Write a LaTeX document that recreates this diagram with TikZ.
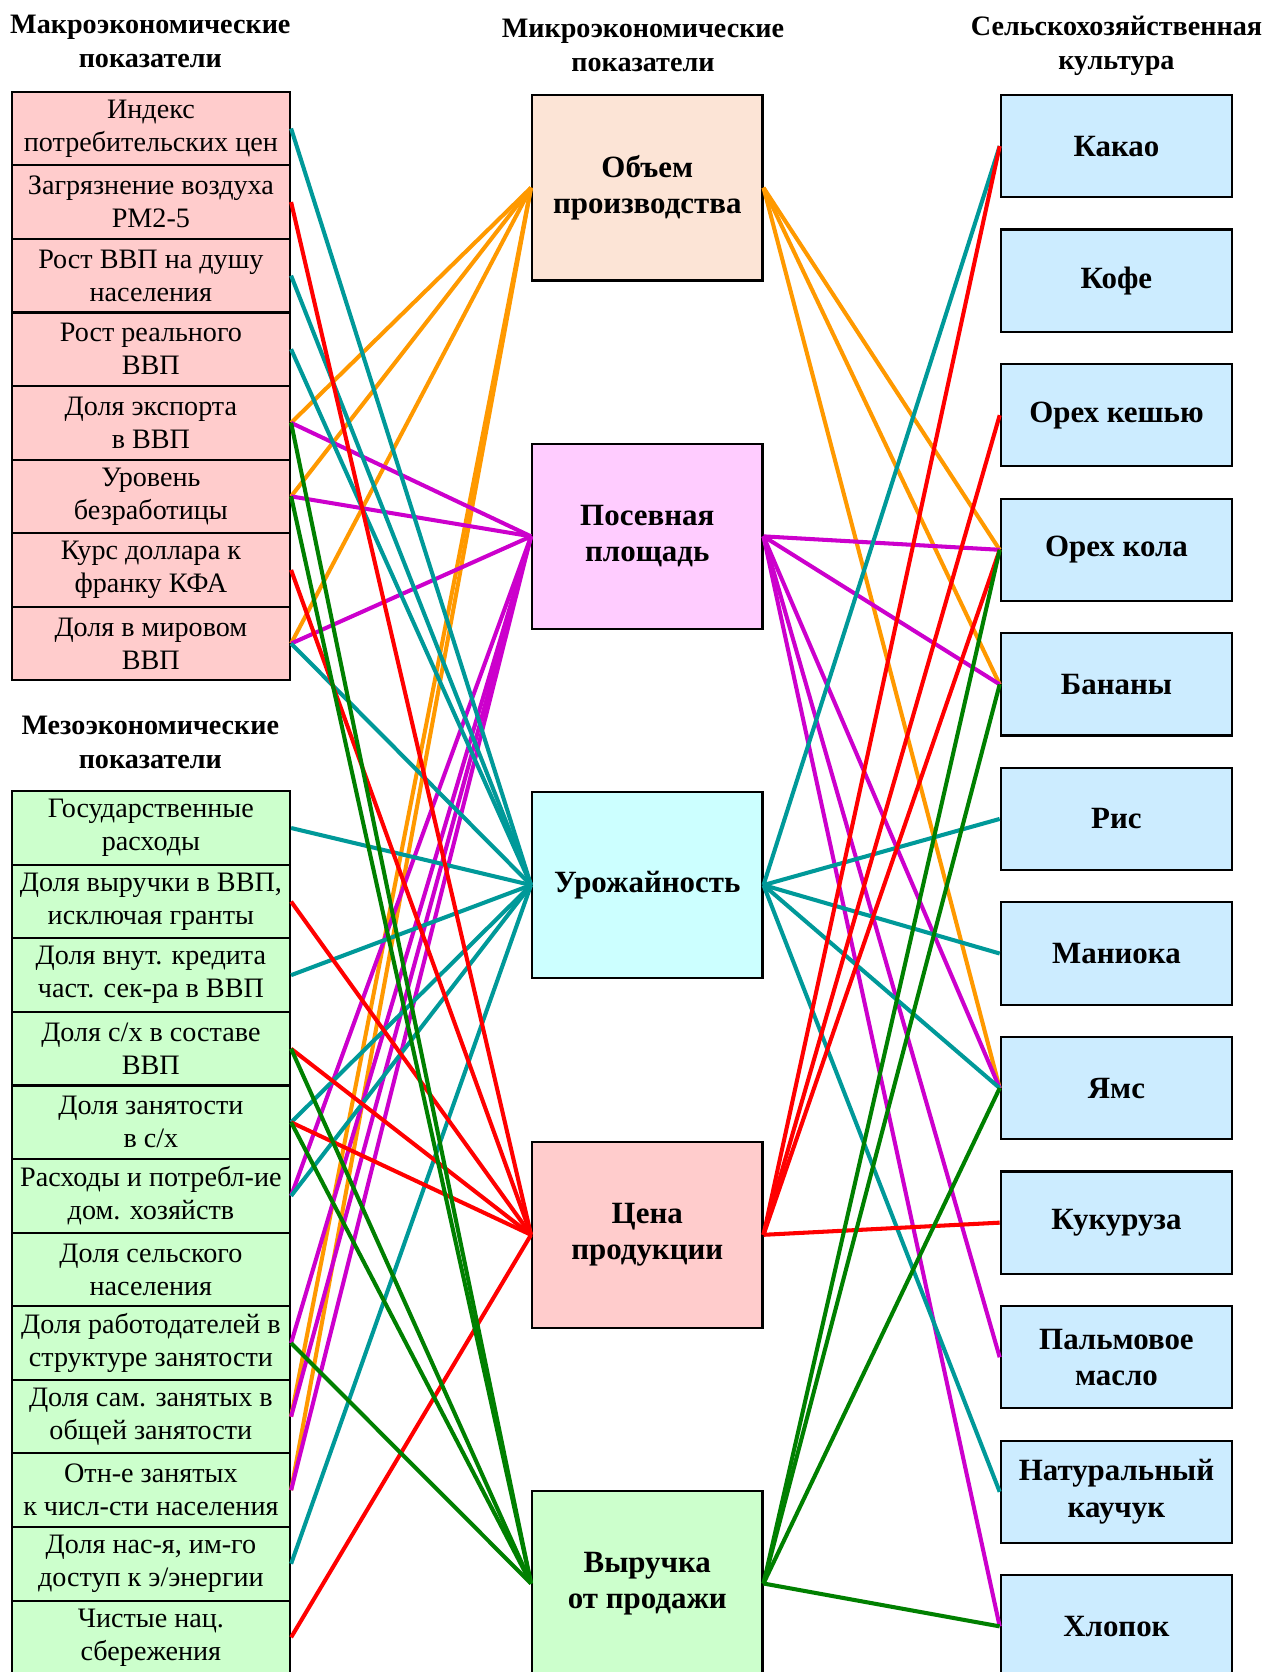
\documentclass[tikz,border=0pt]{standalone}
\usepackage{fontspec}
\setmainfont{Liberation Serif}
\definecolor{cOr}{HTML}{FF9900}
\definecolor{cTe}{HTML}{009999}
\definecolor{cRe}{HTML}{FF0000}
\definecolor{cMa}{HTML}{CC00CC}
\definecolor{cGr}{HTML}{008000}
\definecolor{fMacro}{HTML}{FFCCCC}
\definecolor{fMeso}{HTML}{CCFFCC}
\definecolor{fObj}{HTML}{FCE4D6}
\definecolor{fPos}{HTML}{FFCCFF}
\definecolor{fUro}{HTML}{CCFFFF}
\definecolor{fCen}{HTML}{FFCCCC}
\definecolor{fVyr}{HTML}{CCFFCC}
\definecolor{fCrop}{HTML}{CCECFF}
\tikzset{
  lbox/.style={draw=black, line width=2pt, minimum width=261pt, minimum height=69pt, inner sep=0pt, align=center, font=\fontsize{26.4}{31}\selectfont},
  mbox/.style={draw=black, line width=2pt, minimum width=216pt, minimum height=174pt, inner sep=0pt, align=center, font=\fontsize{29}{34}\selectfont\bfseries},
  rbox/.style={draw=black, line width=2pt, fill=fCrop, minimum width=217pt, minimum height=96pt, inner sep=0pt, align=center, font=\fontsize{29}{34}\selectfont\bfseries},
  hdr/.style={align=center, inner sep=0pt, font=\fontsize{26.4}{32}\selectfont\bfseries},
  lnk/.style={line width=3.8pt},
}
\begin{document}
\begin{tikzpicture}[x=1pt,y=-1pt]
\useasboundingbox (0,0) rectangle (1188,1568);
\clip (0,0) rectangle (1188,1568);
\fill[white] (0,0) rectangle (1188,1568);
% headers
\node[hdr] (h1) at (141,39) {Макроэкономические\\показатели};
\node[hdr] (h2) at (141,696) {Мезоэкономические\\показатели};
\node[hdr] (h3) at (603,43) {Микроэкономические\\показатели};
\node[hdr] (h4) at (1047,43) {Сельскохозяйственная\\культура};
% macro boxes
\node[lbox, fill=fMacro] (a1) at (141.5,120.5) {Индекс\\потребительских цен};
\node[lbox, fill=fMacro] (a2) at (141.5,189.5) {Загрязнение воздуха\\PM2-5};
\node[lbox, fill=fMacro] (a3) at (141.5,258.5) {Рост ВВП на душу\\населения};
\node[lbox, fill=fMacro] (a4) at (141.5,327.5) {Рост реального\\ВВП};
\node[lbox, fill=fMacro] (a5) at (141.5,396.5) {Доля экспорта\\в ВВП};
\node[lbox, fill=fMacro] (a6) at (141.5,465.5) {Уровень\\безработицы};
\node[lbox, fill=fMacro] (a7) at (141.5,534.5) {Курс доллара к\\франку КФА};
\node[lbox, fill=fMacro] (a8) at (141.5,603.5) {Доля в мировом\\ВВП};
% meso boxes
\node[lbox, fill=fMeso] (b1) at (141.5,776.5) {Государственные\\расходы};
\node[lbox, fill=fMeso] (b2) at (141.5,845.5) {Доля выручки в ВВП,\\исключая гранты};
\node[lbox, fill=fMeso] (b3) at (141.5,914.5) {Доля внут. кредита\\част. сек-ра в ВВП};
\node[lbox, fill=fMeso] (b4) at (141.5,983.5) {Доля с/х в составе\\ВВП};
\node[lbox, fill=fMeso] (b5) at (141.5,1052.5) {Доля занятости\\в с/х};
\node[lbox, fill=fMeso] (b6) at (141.5,1121.5) {Расходы и потребл-ие\\дом. хозяйств};
\node[lbox, fill=fMeso] (b7) at (141.5,1190.5) {Доля сельского\\населения};
\node[lbox, fill=fMeso] (b8) at (141.5,1259.5) {Доля работодателей в\\структуре занятости};
\node[lbox, fill=fMeso] (b9) at (141.5,1328.5) {Доля сам. занятых в\\общей занятости};
\node[lbox, fill=fMeso] (b10) at (141.5,1397.5) {Отн-е занятых\\к числ-сти населения};
\node[lbox, fill=fMeso] (b11) at (141.5,1466.5) {Доля нас-я, им-го\\доступ к э/энергии};
\node[lbox, fill=fMeso] (b12) at (141.5,1535.5) {Чистые нац.\\сбережения};
% middle boxes
\node[mbox, fill=fObj] (m1) at (607,176) {Объем\\производства};
\node[mbox, fill=fPos] (m2) at (607,503) {Посевная\\площадь};
\node[mbox, fill=fUro] (m3) at (607,830) {Урожайность};
\node[mbox, fill=fCen] (m4) at (607,1158) {Цена\\продукции};
\node[mbox, fill=fVyr] (m5) at (607,1485) {Выручка\\от продажи};
% right boxes
\node[rbox] (c1) at (1047,137) {Какао};
\node[rbox] (c2) at (1047,263.2) {Кофе};
\node[rbox] (c3) at (1047,389.4) {Орех кешью};
\node[rbox] (c4) at (1047,515.6) {Орех кола};
\node[rbox] (c5) at (1047,641.8) {Бананы};
\node[rbox] (c6) at (1047,768) {Рис};
\node[rbox] (c7) at (1047,894.2) {Маниока};
\node[rbox] (c8) at (1047,1020.4) {Ямс};
\node[rbox] (c9) at (1047,1146.6) {Кукуруза};
\node[rbox] (c10) at (1047,1272.8) {Пальмовое\\масло};
\node[rbox] (c11) at (1047,1399) {Натуральный\\каучук};
\node[rbox] (c12) at (1047,1525.2) {Хлопок};
% left links
\foreach \s in {a5,a6,a8,b9,b10} \draw[lnk, cOr] (\s.east) -- (m1.west);
\foreach \s in {a5,a6,a8,b6,b8,b9,b10} \draw[lnk, cMa] (\s.east) -- (m2.west);
\foreach \s in {a1,a3,a4,a8,b1,b3,b5,b6,b11} \draw[lnk, cTe] (\s.east) -- (m3.west);
\foreach \s in {a2,a7,b2,b4,b5,b12} \draw[lnk, cRe] (\s.east) -- (m4.west);
\foreach \s in {a5,a6,b4,b5,b8} \draw[lnk, cGr] (\s.east) -- (m5.west);
% right links
\foreach \t in {c4,c5,c8} \draw[lnk, cOr] (m1.east) -- (\t.west);
\foreach \t in {c4,c5,c8,c10,c12} \draw[lnk, cMa] (m2.east) -- (\t.west);
\foreach \t in {c1,c6,c7,c8,c11} \draw[lnk, cTe] (m3.east) -- (\t.west);
\foreach \t in {c1,c3,c4,c9} \draw[lnk, cRe] (m4.east) -- (\t.west);
\foreach \t in {c4,c5,c8,c12} \draw[lnk, cGr] (m5.east) -- (\t.west);
\end{tikzpicture}
\end{document}
